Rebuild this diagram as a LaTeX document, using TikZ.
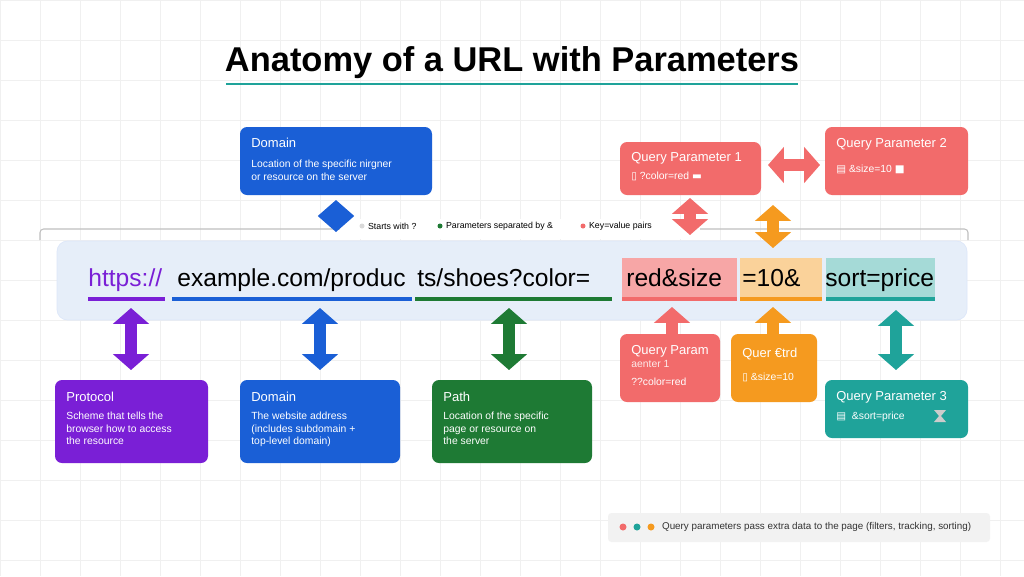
\documentclass[tikz,border=0pt]{standalone}
\usepackage{fontspec}
\setmainfont{Liberation Sans}
\newfontfamily\dejavu{DejaVu Sans}
\usetikzlibrary{arrows.meta}
\definecolor{cpur}{HTML}{7A1FD6}
\definecolor{cblu}{HTML}{1A5FD6}
\definecolor{cgrn}{HTML}{1E7A34}
\definecolor{cpnk}{HTML}{F26B6B}
\definecolor{corg}{HTML}{F59A1F}
\definecolor{ctea}{HTML}{1FA39A}
\definecolor{cbar}{HTML}{E6EEF9}
\begin{document}
\begin{tikzpicture}[x=0.02cm,y=-0.02cm,
 card/.style={rounded corners=4pt,inner sep=0pt},
 ttl/.style={anchor=north west,inner sep=0pt,text=white,font=\fontsize{7.4}{9}\selectfont},
 txt/.style={anchor=north west,inner sep=0pt,text=white,font=\fontsize{5.9}{7.1}\selectfont,align=left},
 dbl/.style={line width=7pt,{Triangle[length=9pt,width=20pt]}-{Triangle[length=9pt,width=20pt]}},
 sgl/.style={line width=7pt,-{Triangle[length=9pt,width=20pt]}},
 seg/.style={anchor=base west,inner sep=0pt,font=\fontsize{14}{17}\selectfont},
 lg/.style={anchor=west,inner sep=1pt,font=\fontsize{5}{6}\selectfont}]
\useasboundingbox (0,0) rectangle (1024,576);
\fill[white] (0,0) rectangle (1024,576);
\foreach \x in {0,40,...,1024} \draw[black!6,line width=0.4pt] (\x,0)--(\x,576);
\foreach \y in {0,40,...,576} \draw[black!6,line width=0.4pt] (0,\y)--(1024,\y);
% title
\node[font=\bfseries\fontsize{19.6}{22}\selectfont] (title) at (512,63) {Anatomy of a URL with Parameters};
\draw[ctea,line width=1.3pt] (226,84)--(798,84);
% bracket line
\draw[black!25,line width=0.6pt,rounded corners=2pt] (40,240)--(40,229)--(968,229)--(968,240);
% legend
\fill[white] (340,219) rectangle (700,239);
\fill[black!15] (362,226) circle (2.5);
\node[lg] (l1) at (366,226) {Starts with ?};
\fill[cgrn] (440,226) circle (2.5);
\node[lg] (l2) at (444,226) {Parameters separated by \&};
\fill[cpnk] (583,226) circle (2.5);
\node[lg] (l3) at (587,226) {Key=value pairs};
% url bar
\draw[cblu!15,fill=cbar,rounded corners=6pt] (57,241) rectangle (967,320);
\fill[cpnk!60] (622,258) rectangle (737,300);
\fill[corg!45] (740,258) rectangle (822,300);
\fill[ctea!40] (826,258) rectangle (935,300);
\foreach \a/\b/\c in {88/165/cpur,172/412/cblu,415/612/cgrn,622/737/cpnk,740/822/corg,826/935/ctea}
  \fill[\c] (\a,297) rectangle (\b,301);
\node[seg,text=cpur] (u1) at (88,286) {https://};
\node[seg] (u2) at (177,286) {example.com/produc};
\node[seg] (u3) at (417,286) {ts/shoes?color=};
\node[seg] (u4) at (626,286) {red\&size};
\node[seg] (u5) at (742,286) {=10\&};
\node[seg] (u6) at (825,286) {sort=price};
% top cards
\fill[cblu,card] (240,127) rectangle (432,195);
\node[ttl] (dt) at (251,138) {Domain};
\node[txt] (dd) at (251,160) {Location of the specific nirgner\\or resource on the server};
\fill[cpnk,card] (620,142) rectangle (761,195);
\node[ttl] (q1t) at (631,152) {Query Parameter 1};
\node[txt] (q1d) at (631,172) {{\dejavu ▯} ?color=red {\dejavu ▬}};
\fill[cpnk,card] (825,127) rectangle (968,195);
\node[ttl] (q2t) at (836,138) {Query Parameter 2};
\node[txt] (q2d) at (836,165) {{\dejavu ▤} \&size=10 {\dejavu ■}};
\draw[dbl,cblu] (336,200)--(336,232);
\draw[dbl,cpnk] (690,198)--(690,235);
\draw[dbl,cpnk] (768,165)--(820,165);
\draw[dbl,corg] (773,205)--(773,248);
% bottom arrows
\draw[dbl,cpur] (131,308)--(131,370);
\draw[dbl,cblu] (320,308)--(320,370);
\draw[dbl,cgrn] (509,308)--(509,370);
\draw[sgl,cpnk] (672,335)--(672,307);
\draw[sgl,corg] (773,335)--(773,307);
\draw[dbl,ctea] (896,310)--(896,370);
% bottom cards
\fill[cpur,card] (55,380) rectangle (208,463);
\node[ttl] (pt) at (66,392) {Protocol};
\node[txt] (pd) at (66,412) {Scheme that tells the\\browser how to access\\the resource};
\fill[cblu,card] (240,380) rectangle (400,463);
\node[ttl] (bt) at (251,392) {Domain};
\node[txt] (bd) at (251,412) {The website address\\(includes subdomain +\\top-level domain)};
\fill[cgrn,card] (432,380) rectangle (592,463);
\node[ttl] (gt) at (443,392) {Path};
\node[txt] (gd) at (443,412) {Location of the specific\\page or resource on\\the server};
\fill[cpnk,card] (620,334) rectangle (720,402);
\node[ttl] (r1t) at (631,345) {Query Param};
\node[txt,text=white!85!cpnk] (r1a) at (631,360) {aenter 1};
\node[txt] (r1b) at (631,378) {??color=red};
\fill[corg,card] (731,334) rectangle (817,402);
\node[ttl] (o1t) at (742,348) {Quer €trd};
\node[txt] (o1d) at (742,373) {{\dejavu ▯} \&size=10};
\fill[ctea,card] (825,380) rectangle (968,438);
\node[ttl] (t1t) at (836,391) {Query Parameter 3};
\node[txt] (t1d) at (836,412) {{\dejavu ▤}\ \ \&sort=price};
\fill[black!20] (934,410)--(946,410)--(941,416)--(946,422)--(934,422)--(939,416)--cycle;
% footer
\fill[black!5,rounded corners=2pt] (608,513) rectangle (990,542);
\fill[cpnk] (623,527) circle (3.5);
\fill[ctea] (637,527) circle (3.5);
\fill[corg] (651,527) circle (3.5);
\node[lg,font=\fontsize{5.6}{7}\selectfont,text=black!80] (ft) at (660,527) {Query parameters pass extra data to the page (filters, tracking, sorting)};
\end{tikzpicture}
\end{document}
